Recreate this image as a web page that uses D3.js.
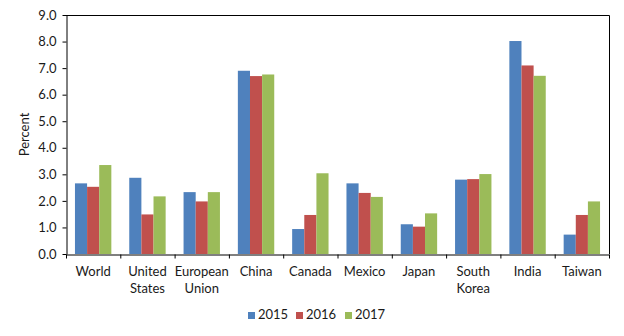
<!DOCTYPE html>
<html>
<head>
<meta charset="utf-8">
<script src="https://cdn.jsdelivr.net/npm/d3@7"></script>
<style>
  html, body { margin: 0; padding: 0; background: #fff; }
  svg { display: block; }
  text { font-family: Lato, "Open Sans", sans-serif; fill: #1a1a1a; }
</style>
</head>
<body>
<svg id="chart" width="624" height="336"></svg>
<script>
// Annual growth by economy, percent
const categories = ["World", "United States", "European Union", "China", "Canada",
                    "Mexico", "Japan", "South Korea", "India", "Taiwan"];
const categoryLines = [["World"], ["United", "States"], ["European", "Union"], ["China"], ["Canada"],
                       ["Mexico"], ["Japan"], ["South", "Korea"], ["India"], ["Taiwan"]];
const years = ["2015", "2016", "2017"];
const values2015 = [2.66, 2.87, 2.33, 6.90, 0.94, 2.66, 1.12, 2.80, 8.02, 0.73];
const values2016 = [2.53, 1.49, 1.98, 6.70, 1.47, 2.30, 1.03, 2.82, 7.10, 1.47];
const values2017 = [3.35, 2.17, 2.33, 6.76, 3.04, 2.15, 1.53, 3.01, 6.71, 1.98];
const yTicks = [0, 1, 2, 3, 4, 5, 6, 7, 8, 9];
const colors = ["#4F81BD", "#C0504D", "#9BBB59"];

const series = [values2015, values2016, values2017];

const svg = d3.select("#chart");
const plot = { left: 66, right: 609, top: 15, bottom: 254 };

const x = d3.scaleBand().domain(categories).range([plot.left, plot.right]).padding(0);
const groupWidth = x.bandwidth() * 0.67;
const xInner = d3.scaleBand().domain(years).range([0, groupWidth]).padding(0);
const y = d3.scaleLinear().domain([0, 9]).range([plot.bottom, plot.top]);

// Bars
const groups = svg.append("g").selectAll("g")
  .data(categories)
  .join("g")
  .attr("transform", d => `translate(${x(d) + (x.bandwidth() - groupWidth) / 2},0)`);

groups.selectAll("rect")
  .data((d, i) => years.map((yr, j) => ({ yr, v: series[j][i], c: colors[j] })))
  .join("rect")
  .attr("x", d => xInner(d.yr))
  .attr("y", d => y(d.v))
  .attr("width", xInner.bandwidth())
  .attr("height", d => y(0) - y(d.v))
  .attr("fill", d => d.c);

// Plot frame (top and right edges)
svg.append("path")
  .attr("d", `M${plot.left},${plot.top + 0.5}H${plot.right + 0.5}V${plot.bottom}`)
  .attr("fill", "none")
  .attr("stroke", "#000")
  .attr("stroke-width", 1);

// Y axis
const yAxis = svg.append("g")
  .attr("transform", `translate(${plot.left + 0.5},0)`)
  .call(d3.axisLeft(y).tickValues(yTicks).tickFormat(d3.format(".1f")).tickSize(4).tickPadding(6).tickSizeOuter(0));
yAxis.select(".domain").attr("stroke", "#000");
yAxis.selectAll(".tick line").attr("stroke", "#000");
yAxis.selectAll(".tick text").attr("font-size", 13).attr("font-family", "Lato, sans-serif").attr("fill", "#1a1a1a");

// X axis: ticks on category boundaries
const boundaries = d3.range(categories.length + 1);
const xb = d3.scaleLinear().domain([0, categories.length]).range([plot.left, plot.right]);
const xAxis = svg.append("g")
  .attr("transform", `translate(0,${plot.bottom + 0.5})`)
  .call(d3.axisBottom(xb).tickValues(boundaries).tickSize(4).tickFormat("").tickSizeOuter(0));
xAxis.select(".domain").attr("stroke", "#000");
xAxis.selectAll(".tick line").attr("stroke", "#000");

// Category labels
const labels = svg.append("g").selectAll("text")
  .data(categories)
  .join("text")
  .attr("x", d => x(d) + x.bandwidth() / 2)
  .attr("y", 276)
  .attr("text-anchor", "middle")
  .attr("font-size", 13);
labels.selectAll("tspan")
  .data((d, i) => categoryLines[i])
  .join("tspan")
  .attr("x", function () { return d3.select(this.parentNode).attr("x"); })
  .attr("dy", (d, i) => i === 0 ? 0 : 16.5)
  .text(d => d);

// Y axis title
svg.append("text")
  .attr("transform", `translate(29,${(plot.top + plot.bottom) / 2}) rotate(-90)`)
  .attr("text-anchor", "middle")
  .attr("font-size", 13)
  .text("Percent");

// Legend
const legendX = [248, 296, 345];
const legend = svg.append("g").selectAll("g")
  .data(years)
  .join("g")
  .attr("transform", (d, i) => `translate(${legendX[i]},319)`);
legend.append("rect")
  .attr("x", 0).attr("y", -7).attr("width", 7).attr("height", 7)
  .attr("fill", (d, i) => colors[i]);
legend.append("text")
  .attr("x", 10)
  .attr("y", 0)
  .attr("font-size", 13)
  .text(d => d);
</script>
</body>
</html>
